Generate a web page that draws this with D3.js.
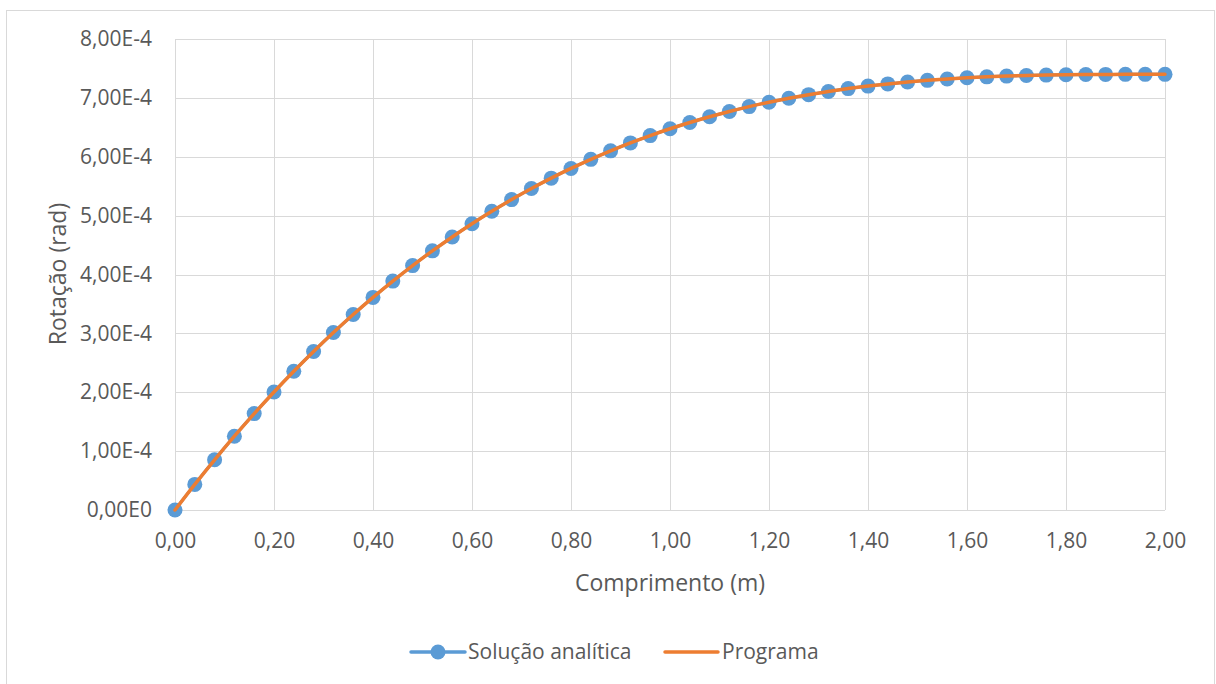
<!DOCTYPE html>
<html><head><meta charset="utf-8">
<script src="https://cdn.jsdelivr.net/npm/d3@7"></script>
<style>body{margin:0;background:#fff;} text{font-family:"Open Sans",sans-serif;}</style>
</head><body><svg id="c" width="1216" height="684"></svg>
<script>
const xValues = [0,0.04,0.08,0.12,0.16,0.20,0.24,0.28,0.32,0.36,0.40,0.44,0.48,0.52,0.56,0.60,0.64,0.68,0.72,0.76,0.80,0.84,0.88,0.92,0.96,1.00,1.04,1.08,1.12,1.16,1.20,1.24,1.28,1.32,1.36,1.40,1.44,1.48,1.52,1.56,1.60,1.64,1.68,1.72,1.76,1.80,1.84,1.88,1.92,1.96,2.00];
const analiticaValues = [0,0.4352e-4,0.8530e-4,1.2537e-4,1.6377e-4,2.0054e-4,2.3571e-4,2.6932e-4,3.0140e-4,3.3199e-4,3.6112e-4,3.8883e-4,4.1516e-4,4.4013e-4,4.6380e-4,4.8618e-4,5.0732e-4,5.2725e-4,5.4601e-4,5.6364e-4,5.8016e-4,5.9562e-4,6.1004e-4,6.2348e-4,6.3595e-4,6.4750e-4,6.5816e-4,6.6797e-4,6.7696e-4,6.8518e-4,6.9264e-4,6.9939e-4,7.0547e-4,7.1092e-4,7.1575e-4,7.2002e-4,7.2376e-4,7.2699e-4,7.2977e-4,7.3212e-4,7.3408e-4,7.3568e-4,7.3697e-4,7.3797e-4,7.3872e-4,7.3926e-4,7.3962e-4,7.3984e-4,7.3995e-4,7.3999e-4,7.4000e-4];
const programaValues = [0,0.4352e-4,0.8530e-4,1.2537e-4,1.6377e-4,2.0054e-4,2.3571e-4,2.6932e-4,3.0140e-4,3.3199e-4,3.6112e-4,3.8883e-4,4.1516e-4,4.4013e-4,4.6380e-4,4.8618e-4,5.0732e-4,5.2725e-4,5.4601e-4,5.6364e-4,5.8016e-4,5.9562e-4,6.1004e-4,6.2348e-4,6.3595e-4,6.4750e-4,6.5816e-4,6.6797e-4,6.7696e-4,6.8518e-4,6.9264e-4,6.9939e-4,7.0547e-4,7.1092e-4,7.1575e-4,7.2002e-4,7.2376e-4,7.2699e-4,7.2977e-4,7.3212e-4,7.3408e-4,7.3568e-4,7.3697e-4,7.3797e-4,7.3872e-4,7.3926e-4,7.3962e-4,7.3984e-4,7.3995e-4,7.3999e-4,7.4000e-4];
const xTicks = [0,0.2,0.4,0.6,0.8,1.0,1.2,1.4,1.6,1.8,2.0];
const xTickLabels = ["0,00","0,20","0,40","0,60","0,80","1,00","1,20","1,40","1,60","1,80","2,00"];
const yTicks = [0,1e-4,2e-4,3e-4,4e-4,5e-4,6e-4,7e-4,8e-4];
const yTickLabels = ["0,00E0","1,00E-4","2,00E-4","3,00E-4","4,00E-4","5,00E-4","6,00E-4","7,00E-4","8,00E-4"];
const seriesNames = ["Solução analítica","Programa"];

const svg = d3.select("#c");
svg.append("rect").attr("x",6.5).attr("y",10.5).attr("width",1208).attr("height",690)
  .attr("fill","#fff").attr("stroke","#d9d9d9");

const x = d3.scaleLinear().domain([0,2]).range([175,1165]);
const y = d3.scaleLinear().domain([0,8e-4]).range([510,39]);

const grid = svg.append("g");
xTicks.forEach(t=>grid.append("line").attr("x1",Math.round(x(t))+0.5).attr("x2",Math.round(x(t))+0.5)
  .attr("y1",y(8e-4)).attr("y2",y(0)).attr("stroke","#d9d9d9").attr("stroke-width",1));
yTicks.forEach(t=>grid.append("line").attr("y1",Math.round(y(t))+0.5).attr("y2",Math.round(y(t))+0.5)
  .attr("x1",x(0)).attr("x2",x(2)).attr("stroke","#d9d9d9").attr("stroke-width",1));

const xAxis = d3.axisBottom(x).tickValues(xTicks).tickFormat((d,i)=>xTickLabels[i]).tickSize(0).tickPadding(23);
const gx = svg.append("g").attr("transform",`translate(0,${y(0)})`).call(xAxis);
gx.select(".domain").remove();
gx.selectAll("text").attr("fill","#595959").style("font-size","21px").style("font-family","Open Sans");

const yAxis = d3.axisLeft(y).tickValues(yTicks).tickFormat((d,i)=>yTickLabels[i]).tickSize(0).tickPadding(23);
const gy = svg.append("g").attr("transform",`translate(${x(0)},0)`).call(yAxis);
gy.select(".domain").remove();
gy.selectAll("text").attr("fill","#595959").style("font-size","21px").style("font-family","Open Sans");

const data = xValues.map((v,i)=>({x:v,a:analiticaValues[i],p:programaValues[i]}));
const lineA = d3.line().x(d=>x(d.x)).y(d=>y(d.a)).curve(d3.curveMonotoneX);
const lineP = d3.line().x(d=>x(d.x)).y(d=>y(d.p)).curve(d3.curveMonotoneX);

svg.append("path").datum(data).attr("d",lineA).attr("fill","none").attr("stroke","#5b9bd5").attr("stroke-width",3);
svg.append("g").selectAll("circle").data(data).join("circle")
  .attr("cx",d=>x(d.x)).attr("cy",d=>y(d.a)).attr("r",7.5).attr("fill","#5b9bd5");
svg.append("path").datum(data).attr("d",lineP).attr("fill","none").attr("stroke","#ed7d31").attr("stroke-width",3.5).attr("stroke-linecap","round");

svg.append("text").attr("x",670).attr("y",591).attr("text-anchor","middle").attr("fill","#595959")
  .style("font-size","23px").text("Comprimento (m)");
svg.append("text").attr("transform","translate(66,274) rotate(-90)").attr("text-anchor","middle").attr("fill","#595959")
  .style("font-size","23px").text("Rotação (rad)");

const lg = svg.append("g");
lg.append("line").attr("x1",411).attr("x2",465).attr("y1",652).attr("y2",652).attr("stroke","#5b9bd5").attr("stroke-width",3.5).attr("stroke-linecap","round");
lg.append("circle").attr("cx",438).attr("cy",652).attr("r",7.5).attr("fill","#5b9bd5");
lg.append("text").attr("x",468).attr("y",659).attr("fill","#595959").style("font-size","21px").text(seriesNames[0]);
lg.append("line").attr("x1",665).attr("x2",718).attr("y1",652).attr("y2",652).attr("stroke","#ed7d31").attr("stroke-width",3.5).attr("stroke-linecap","round");
lg.append("text").attr("x",722).attr("y",659).attr("fill","#595959").style("font-size","21px").text(seriesNames[1]);
</script></body></html>
